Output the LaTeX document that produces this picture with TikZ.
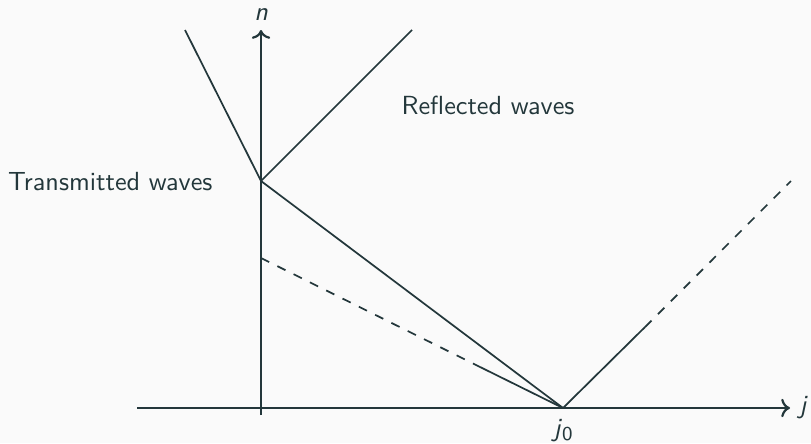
\documentclass[tikz,border=0pt]{standalone}
\usepackage{tikz}
\usetikzlibrary{arrows.meta}
\usepackage{xcolor}
\definecolor{darkteal}{HTML}{23373B}
\definecolor{paper}{HTML}{FAFAFA}

\tikzset{
    axisline/.style={line width=0.9pt},
    waveline/.style={line width=0.7pt},
    wavedash/.style={line width=0.7pt, dash pattern=on 3.7pt off 3.7pt}
}

\begin{document}
\begin{tikzpicture}[>=To, scale=1, darkteal, font=\sffamily\fontsize{10.65}{13}\selectfont]

% Fons
\fill[paper] (-3.729,-0.5) rectangle (7.857,5.829);
\useasboundingbox (-3.729,-0.5) rectangle (7.857,5.829);

% Punts
\coordinate (xstart) at (-1.771,0);
\coordinate (xend) at (7.557,0);
\coordinate (ystart) at (0,-0.1);
\coordinate (yend) at (0,5.4);
\coordinate (jzero) at (4.314,0);
\coordinate (hit) at (0,3.243);
\coordinate (ghost) at (0,2.143);
\coordinate (ghostmid) at (3.129,0.586);
\coordinate (transend) at (-1.086,5.4);
\coordinate (reflend) at (2.157,5.4);
\coordinate (rightmid) at (5.486,1.157);
\coordinate (rightend) at (7.571,3.243);

% Eixos
\draw[
    ->,
    axisline
] (xstart) -- (xend)
    node[right] (jlabel) {\textsl{j}};
\draw[
    ->,
    axisline
] (ystart) -- (yend)
    node[above] (nlabel) {\textsl{n}};

% Etiqueta j0
\node[below=1pt] (jzerolabel) at (jzero) {\textsl{j}\raisebox{-0.35ex}{\footnotesize 0}};

% Ona principal
\draw[
    waveline
] (jzero) -- (hit);

% Ona transmesa
\draw[
    waveline
] (hit) -- (transend);

% Ona reflectida
\draw[
    waveline
] (hit) -- (reflend);

% Ona discontinua inferior
\draw[
    wavedash
] (ghost) -- (ghostmid);
\draw[
    waveline
] (ghostmid) -- (jzero);

% Ona cap a la dreta
\draw[
    waveline
] (jzero) -- (rightmid);
\draw[
    wavedash
] (rightmid) -- (rightend);

% Textos
\node[anchor=east] (translabel) at (-0.57,3.24) {Transmitted waves};
\node (refllabel) at (3.243,4.329) {Reflected waves};

\end{tikzpicture}
\end{document}
